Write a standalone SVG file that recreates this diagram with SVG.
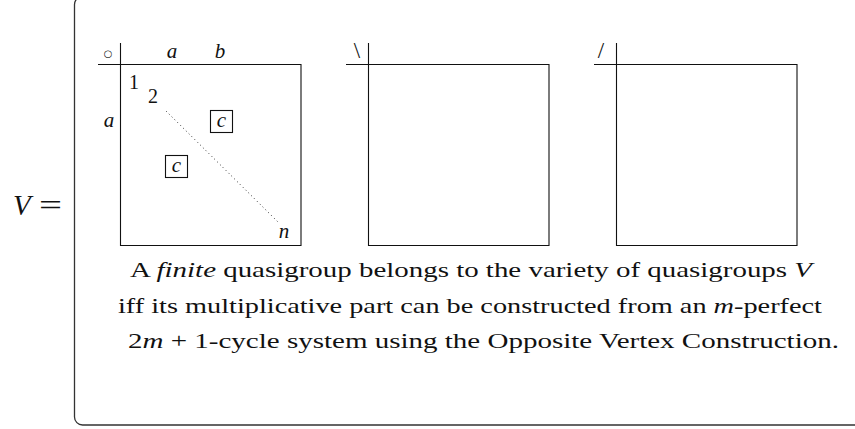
<svg xmlns="http://www.w3.org/2000/svg" width="855" height="429" viewBox="0 0 855 429">
<style>
.t{font-family:"Liberation Serif","Times New Roman",serif;fill:#111}
.i{font-style:italic}
.ln{stroke:#111;stroke-width:1.1;fill:none}
.dot{stroke:#333;stroke-width:1;stroke-dasharray:1 3;fill:none}
</style>
<rect width="855" height="429" fill="#fff"/>
<g id="lhs">
<text class="t i" x="13" y="215" font-size="29">V</text>
<text class="t" x="39" y="215" font-size="29" textLength="23" lengthAdjust="spacingAndGlyphs">=</text>
</g>
<path d="M82.5,-3.5 A8,8 0 0 0 74.5,4.5 L74.5,417 A8,8 0 0 0 82.5,425 L856,425" stroke="#333" stroke-width="1.3" fill="none"/>
<g id="table-op">
<path class="ln" d="M120.5,43 V245.5 H301 V64.5 H98"/>
<text x="108" y="57" font-size="10" text-anchor="middle" style="font-family:'DejaVu Sans',sans-serif;fill:#111">○</text>
<text class="t i" x="172" y="58" font-size="21" text-anchor="middle">a</text>
<text class="t i" x="220" y="58" font-size="21" text-anchor="middle">b</text>
<text class="t i" x="109" y="127" font-size="21" text-anchor="middle">a</text>
<text class="t" x="134" y="89" font-size="20" text-anchor="middle">1</text>
<text class="t" x="153" y="103" font-size="20" text-anchor="middle">2</text>
<line class="dot" x1="166" y1="111" x2="279" y2="223"/>
<rect x="210.5" y="110.5" width="22" height="22" class="ln"/>
<text class="t i" x="221.5" y="127" font-size="21" text-anchor="middle">c</text>
<rect x="165.5" y="155.5" width="22" height="22" class="ln"/>
<text class="t i" x="176.5" y="172" font-size="21" text-anchor="middle">c</text>
<text class="t i" x="284" y="238" font-size="21" text-anchor="middle">n</text>
</g>
<g id="table-left-division">
<path class="ln" d="M368.5,43 V245.5 H549 V64.5 H346"/>
<text class="t" x="357" y="58" font-size="23" text-anchor="middle">\</text>
</g>
<g id="table-right-division">
<path class="ln" d="M616.5,43 V245.5 H797 V64.5 H594"/>
<text class="t" x="601" y="58" font-size="23" text-anchor="middle">/</text>
</g>
<g id="caption">
<text class="t" x="130" y="277" font-size="22" textLength="682" lengthAdjust="spacingAndGlyphs">A <tspan class="i">finite</tspan> quasigroup belongs to the variety of quasigroups <tspan class="i">V</tspan></text>
<text class="t" x="118" y="313" font-size="22" textLength="704" lengthAdjust="spacingAndGlyphs">iff its multiplicative part can be constructed from an <tspan class="i">m</tspan>-perfect</text>
<text class="t" x="128" y="348" font-size="22" textLength="711" lengthAdjust="spacingAndGlyphs">2<tspan class="i">m</tspan> + 1-cycle system using the Opposite Vertex Construction.</text>
</g>
</svg>
